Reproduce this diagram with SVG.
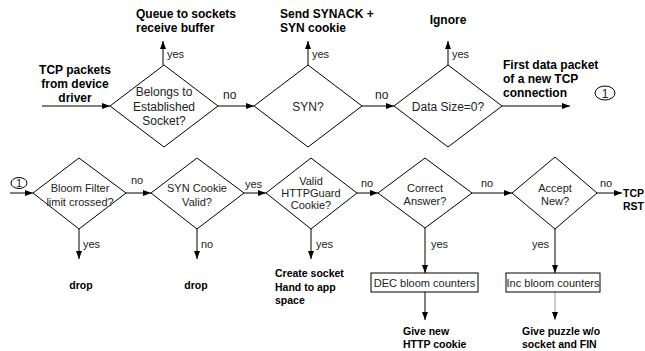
<svg xmlns="http://www.w3.org/2000/svg" width="645" height="351" viewBox="0 0 645 351">
<defs>
<marker id="ah" viewBox="0 0 8 6" refX="8" refY="3" markerWidth="8" markerHeight="6" markerUnits="userSpaceOnUse" orient="auto">
<path d="M0,0 L8,3 L0,6 Z" fill="#000"/>
</marker>
</defs>
<style>
text{font-family:"Liberation Sans",Arial,sans-serif;font-size:12px;fill:#222}
.b{font-weight:bold;fill:#000}
.c{text-anchor:middle}
.s{font-size:11px}
.sb{font-size:10.5px}
.d{fill:#fff;stroke:#000;stroke-width:1}
.l{fill:none;stroke:#000;stroke-width:1;marker-end:url(#ah)}
.g{fill:none;stroke:#999;stroke-width:1;marker-end:url(#ah)}
.p{fill:none;stroke:#000;stroke-width:1}
</style>
<rect width="645" height="351" fill="#fff"/>

<g id="connectors">
<line class="l" x1="42" y1="106" x2="110" y2="106"/>
<line class="l" x1="163" y1="65" x2="163" y2="41"/>
<line class="l" x1="218" y1="106" x2="254" y2="106"/>
<line class="l" x1="308" y1="65" x2="308" y2="41"/>
<line class="l" x1="362" y1="106" x2="394" y2="106"/>
<line class="l" x1="448" y1="65" x2="448" y2="41"/>
<line class="l" x1="502" y1="106" x2="570" y2="106"/>
<line class="l" x1="10" y1="193" x2="33" y2="193"/>
<line class="l" x1="126" y1="193" x2="151" y2="193"/>
<line class="l" x1="244" y1="193" x2="266" y2="193"/>
<line class="l" x1="357" y1="193" x2="378" y2="193"/>
<line class="l" x1="472" y1="193" x2="512" y2="193"/>
<line class="l" x1="597" y1="193" x2="622" y2="193"/>
<line class="l" x1="79" y1="229" x2="79" y2="259"/>
<line class="l" x1="197" y1="229" x2="197" y2="259"/>
<line class="l" x1="311" y1="229" x2="311" y2="259"/>
<line class="l" x1="425" y1="228" x2="425" y2="273"/>
<line class="l" x1="425" y1="292" x2="425" y2="320"/>
<line class="l" x1="555" y1="229" x2="555" y2="273"/>
<line class="g" x1="555" y1="292" x2="555" y2="320"/>
<text class="s" x="167" y="58">yes</text>
<text x="223" y="99">no</text>
<text class="s" x="312" y="58">yes</text>
<text x="375" y="99">no</text>
<text class="s" x="452" y="58">yes</text>
<text class="s" x="131" y="184">no</text>
<text class="s" x="245" y="188">yes</text>
<text class="s" x="361" y="187">no</text>
<text class="s" x="481" y="187">no</text>
<text class="s" x="600" y="187">no</text>
<text class="s" x="83" y="248">yes</text>
<text class="s" x="201" y="248">no</text>
<text class="s" x="316" y="248">yes</text>
<text class="s" x="431" y="248">yes</text>
<text class="s" x="532" y="248">yes</text>
</g>

<g id="src">
<text class="b c" x="75" y="74">TCP packets</text>
<text class="b c" x="75" y="88">from device</text>
<text class="b c" x="75" y="102">driver</text>
</g>
<g id="queue">
<text class="b" x="136" y="18">Queue to sockets</text>
<text class="b" x="136" y="32">receive buffer</text>
</g>
<g id="synack">
<text class="b" x="280" y="18">Send SYNACK +</text>
<text class="b" x="280" y="32">SYN cookie</text>
</g>
<g id="ignore">
<text class="b c" x="448" y="24">Ignore</text>
</g>
<g id="firstdata">
<text class="b" x="503" y="69">First data packet</text>
<text class="b" x="503" y="83">of a new TCP</text>
<text class="b" x="503" y="97">connection</text>
</g>
<g id="conn1">
<ellipse cx="605" cy="93" rx="10" ry="7" fill="none" stroke="#000"/>
<text class="c" x="605" y="97.5">1</text>
</g>

<g id="d-established">
<polygon class="d" points="110,106 164,65 218,106 164,147"/>
<text class="c" x="164" y="96">Belongs to</text>
<text class="c" x="164" y="111">Established</text>
<text class="c" x="164" y="125">Socket?</text>
</g>
<g id="d-syn">
<polygon class="d" points="254,106 308,65 362,106 308,147"/>
<text class="c" x="308" y="111">SYN?</text>
</g>
<g id="d-datasize">
<polygon class="d" points="394,106 448,65 502,106 448,147"/>
<text class="c" x="448" y="111">Data Size=0?</text>
</g>

<g id="conn1b">
<ellipse cx="19" cy="183" rx="8" ry="5.5" fill="none" stroke="#000"/>
<text class="c s" x="19" y="187">1</text>
</g>
<g id="d-bloom">
<polygon class="d" points="33,193 79,158 126,193 79,229"/>
<text class="c s" x="80" y="192">Bloom Filter</text>
<text class="c s" x="80" y="206">limit crossed?</text>
</g>
<g id="d-syncookie">
<polygon class="d" points="151,193 197,158 244,193 197,229"/>
<text class="c s" x="197" y="192">SYN Cookie</text>
<text class="c s" x="197" y="206">Valid?</text>
</g>
<g id="d-httpguard">
<polygon class="d" points="266,193 311,158 357,193 311,229"/>
<text class="c s" x="311" y="185">Valid</text>
<text class="c s" x="311" y="197">HTTPGuard</text>
<text class="c s" x="311" y="209">Cookie?</text>
</g>
<g id="d-answer">
<polygon class="d" points="378,193 425,158 472,193 425,228"/>
<text class="c s" x="425" y="192">Correct</text>
<text class="c s" x="425" y="205">Answer?</text>
</g>
<g id="d-accept">
<polygon class="d" points="512,193 555,157 597,193 555,229"/>
<text class="c s" x="555" y="192">Accept</text>
<text class="c s" x="555" y="205">New?</text>
</g>

<g id="rst">
<text class="b sb" x="623" y="197">TCP</text>
<text class="b sb" x="623" y="210">RST</text>
</g>
<g id="drop1">
<text class="b c sb" x="81" y="289">drop</text>
</g>
<g id="drop2">
<text class="b c sb" x="196" y="289">drop</text>
</g>
<g id="create">
<text class="b sb" x="275" y="277">Create socket</text>
<text class="b sb" x="275" y="291">Hand to app</text>
<text class="b sb" x="275" y="304">space</text>
</g>
<g id="dec">
<rect class="p" x="371" y="273" width="107" height="19"/>
<text class="c s" x="424.5" y="286.5">DEC bloom counters</text>
</g>
<g id="inc">
<rect class="p" x="506" y="273" width="94" height="19"/>
<text class="c s" x="553" y="286.5">Inc bloom counters</text>
</g>
<g id="newcookie">
<text class="b sb" x="403" y="335">Give new</text>
<text class="b sb" x="403" y="348">HTTP cookie</text>
</g>
<g id="puzzle">
<text class="b sb" x="522" y="335">Give puzzle w/o</text>
<text class="b sb" x="522" y="348">socket and FIN</text>
</g>
</svg>
